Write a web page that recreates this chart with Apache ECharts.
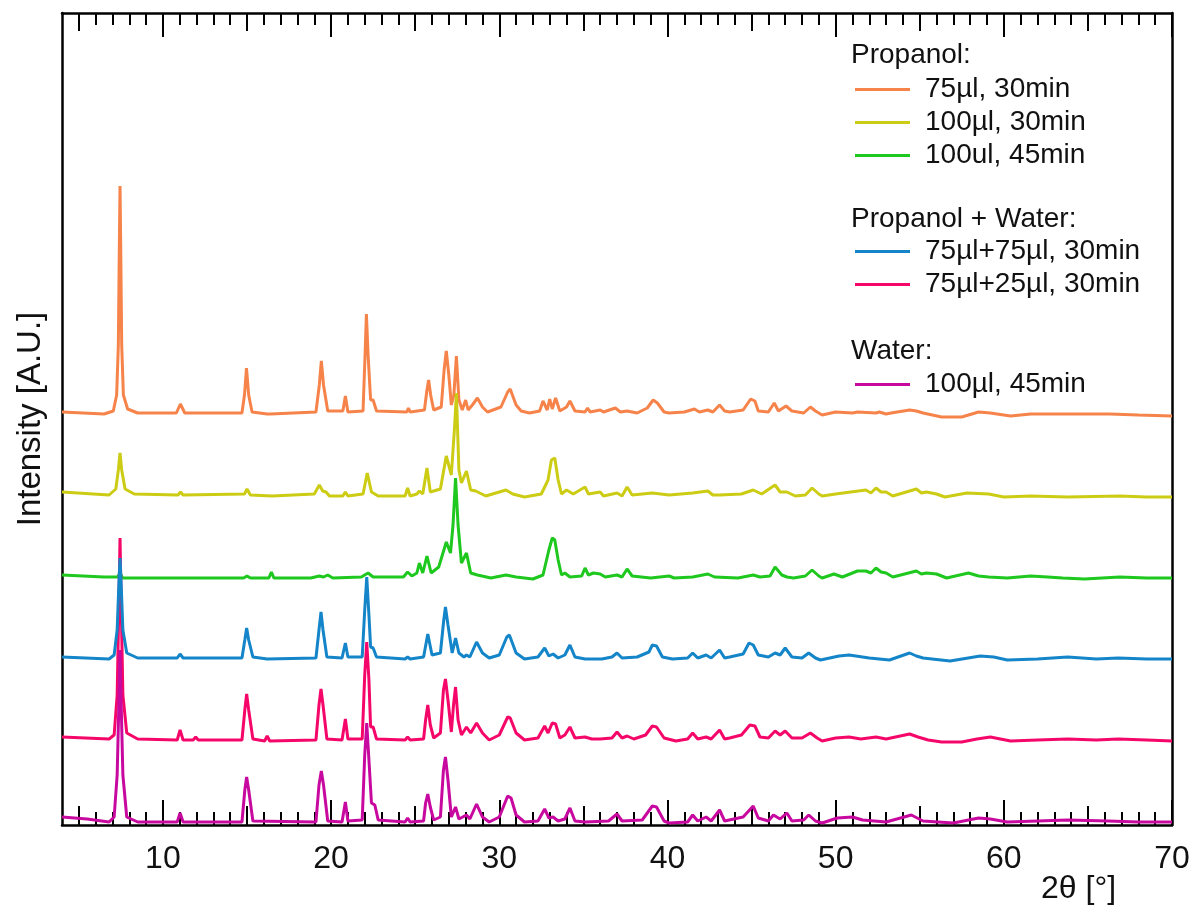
<!DOCTYPE html>
<html>
<head>
<meta charset="utf-8">
<script src="https://cdn.jsdelivr.net/npm/echarts@6/dist/echarts.min.js"></script>
<style>
html,body{margin:0;padding:0;background:#fff;}
#chart{width:1196px;height:907px;}
</style>
</head>
<body>
<div id="chart"></div>
<script>
// ---- Data (2θ in degrees, intensity in arbitrary stacked units) ----
var seriesNames = ['75µl, 30min', '100µl, 30min', '100ul, 45min', '75µl+75µl, 30min', '75µl+25µl, 30min', '100µl, 45min'];
var seriesColors = ['#F6834A', '#CCCC14', '#1EC81E', '#1485C8', '#F5076A', '#C8099F'];

var majorTicks = [10, 20, 30, 40, 50, 60, 70];
var midTicks = [5, 15, 25, 35, 45, 55, 65];
var minorTicks = [6, 7, 8, 9, 11, 12, 13, 14, 16, 17, 18, 19, 21, 22, 23, 24, 26, 27, 28, 29, 31, 32, 33, 34, 36, 37, 38, 39, 41, 42, 43, 44, 46, 47, 48, 49, 51, 52, 53, 54, 56, 57, 58, 59, 61, 62, 63, 64, 66, 67, 68, 69];

var propanol75_30 = [[4,413],[6.5,411],[7.05,414],[7.25,430],[7.35,480],[7.41,580],[7.45,639],[7.49,580],[7.55,480],[7.65,430],[7.9,416],[8.5,412],[10.8,412],[11.04,421],[11.3,412],[14.7,412],[14.85,430],[14.97,457],[15.1,430],[15.3,413],[16.2,411],[16.3,413],[16.4,411],[19.1,413],[19.3,440],[19.42,464],[19.55,440],[19.8,414],[20.7,414],[20.85,429],[21.0,413],[21.9,414],[22.02,470],[22.1,511],[22.2,470],[22.35,425],[22.5,425],[22.7,414],[24.5,413],[24.6,417],[24.7,413],[25.55,415],[25.7,435],[25.8,445],[25.92,430],[26.1,415],[26.55,418],[26.72,455],[26.85,474],[27.0,450],[27.15,420],[27.3,430],[27.45,469],[27.6,425],[27.8,415],[28.0,425],[28.15,415],[28.4,420],[28.7,427],[29.0,418],[29.3,413],[30.1,418],[30.5,433],[30.65,436],[31.0,420],[31.3,414],[31.8,412],[32.4,414],[32.6,424],[32.85,415],[33.0,426],[33.15,416],[33.35,427],[33.6,414],[34.0,418],[34.2,424],[34.5,414],[35.1,413],[35.25,417],[35.4,413],[36.0,415],[36.2,413],[36.9,417],[37.2,413],[37.6,414],[38.2,412],[38.8,417],[39.15,425],[39.4,422],[39.8,413],[40.1,412],[41.0,413],[41.6,416],[41.9,413],[42.4,415],[42.7,413],[43.1,420],[43.4,414],[43.7,413],[44.5,415],[44.95,426],[45.2,424],[45.4,414],[46.0,413],[46.35,422],[46.6,414],[47.05,419],[47.4,414],[48.1,412],[48.5,418],[48.8,414],[49.2,410],[50.0,413],[51.0,412],[51.3,413],[52.4,412],[52.6,413],[53.0,411],[53.3,412],[54.4,415],[54.8,414],[55.2,412],[56.3,408],[57.5,408],[58.5,413],[59.2,412],[60.4,409],[61.6,411],[63.8,411],[66.3,411],[68,410],[70,409]];

var propanol100_30 = [[4,333],[6.8,330],[7.2,336],[7.35,355],[7.45,372],[7.55,355],[7.75,336],[8.3,331],[10.9,330],[11.05,333],[11.2,330],[14.85,331],[15.0,336],[15.2,330],[16.5,329],[19.0,331],[19.3,340],[19.5,334],[19.7,333],[19.9,329],[20.7,329],[20.85,333],[21.0,329],[21.9,331],[22.15,352],[22.4,333],[22.8,329],[24.4,329],[24.55,337],[24.7,329],[25.1,331],[25.25,334],[25.45,331],[25.7,357],[25.9,333],[26.5,336],[26.85,369],[27.15,350],[27.35,400],[27.45,432],[27.6,355],[27.75,342],[28.05,354],[28.3,335],[28.6,334],[29.2,329],[30.4,335],[30.8,331],[31.5,328],[32.5,331],[32.9,345],[33.1,365],[33.3,367],[33.5,345],[33.7,331],[34.0,335],[34.4,331],[35.1,338],[35.3,331],[36.0,333],[36.2,329],[37.0,332],[37.3,329],[37.6,338],[37.9,330],[39.1,332],[40.1,330],[41.5,332],[42.4,334],[42.7,330],[43.1,330],[44.4,331],[45.1,335],[45.6,331],[46.4,340],[46.7,333],[47.1,333],[47.6,329],[48.2,330],[48.6,337],[49.0,331],[49.2,329],[50.0,331],[51.8,335],[52.1,332],[52.4,337],[52.7,333],[53.0,333],[53.4,329],[54.8,336],[55.1,332],[55.4,333],[56.0,331],[56.5,328],[57.8,332],[59.1,331],[60.0,328],[61.6,329],[63.8,328],[66.9,329],[68.5,328],[70,328]];

var propanol100_45 = [[4,250],[6.5,248],[7.3,248],[7.45,252],[7.6,247],[10,247],[11.0,247],[14.8,247],[15.0,249],[15.2,247],[16.3,247],[16.45,253],[16.6,247],[18.8,247],[19.3,249],[19.55,248],[19.8,250],[20.1,247],[21.8,248],[22.2,252],[22.5,248],[24.3,248],[24.55,253],[24.8,249],[25.1,252],[25.25,262],[25.45,252],[25.7,269],[25.95,252],[26.4,258],[26.85,283],[27.1,272],[27.25,300],[27.4,347],[27.55,300],[27.75,262],[28.05,272],[28.3,252],[28.7,250],[29.5,247],[30.4,250],[31.0,248],[32.0,246],[32.6,250],[32.95,275],[33.15,287],[33.3,285],[33.5,265],[33.7,250],[33.9,252],[34.2,248],[34.9,249],[35.1,257],[35.3,250],[35.6,252],[36.0,251],[36.3,248],[37.0,250],[37.3,248],[37.6,256],[37.9,249],[39.0,247],[40.1,249],[40.4,247],[41.5,248],[42.4,251],[42.8,248],[44.2,247],[45.1,250],[45.5,248],[46.1,249],[46.4,258],[46.8,250],[47.1,248],[47.5,247],[48.2,249],[48.6,255],[49.0,249],[49.2,247],[49.9,251],[50.4,248],[51.3,254],[51.8,254],[52.1,252],[52.4,257],[52.7,253],[53.0,252],[53.4,248],[54.8,254],[55.1,251],[55.4,252],[56.0,251],[56.6,247],[57.9,252],[58.5,249],[59.1,248],[60.2,247],[61.6,249],[62.6,248],[63.5,247],[64.8,246],[66.9,248],[68.5,247],[70,247]];

var mix75_75 = [[4,168],[6.8,166],[7.1,170],[7.28,195],[7.38,240],[7.45,267],[7.52,240],[7.62,195],[7.85,172],[8.5,167],[10.85,167],[11.02,171],[11.2,167],[14.7,167],[14.87,185],[14.98,197],[15.1,185],[15.35,168],[16.2,166],[19.1,167],[19.28,195],[19.4,213],[19.52,195],[19.75,168],[20.65,167],[20.85,182],[21.0,168],[21.85,168],[22.0,215],[22.12,248],[22.25,210],[22.35,178],[22.5,177],[22.7,168],[24.4,166],[24.55,168],[24.7,166],[25.5,168],[25.75,191],[26.0,170],[26.5,172],[26.7,205],[26.8,218],[26.95,200],[27.2,172],[27.4,187],[27.6,172],[27.9,168],[28.05,170],[28.25,168],[28.65,183],[29.0,172],[29.4,167],[30.0,170],[30.45,188],[30.6,190],[31.0,172],[31.5,166],[32.3,168],[32.7,177],[32.95,169],[33.2,171],[33.5,167],[33.9,170],[34.2,180],[34.5,168],[35.1,166],[36.1,166],[36.7,168],[37.0,172],[37.3,167],[38.2,168],[38.9,173],[39.1,180],[39.35,179],[39.7,168],[40.3,166],[41.2,167],[41.5,172],[41.8,167],[42.3,170],[42.6,167],[43.1,175],[43.4,167],[43.7,168],[44.5,171],[44.85,182],[45.1,180],[45.4,170],[46.0,168],[46.4,172],[46.7,170],[47.0,177],[47.4,168],[48.0,167],[48.4,172],[48.8,167],[49.1,165],[50.2,169],[50.8,170],[52.0,167],[53.2,165],[54.4,172],[54.8,169],[55.2,167],[56.8,164],[58.6,169],[59.4,168],[60.2,165],[62.0,166],[63.8,168],[65.5,166],[66.8,167],[68.5,166],[70,166]];

var mix75_25 = [[4,88],[6.8,86],[7.1,90],[7.28,130],[7.38,220],[7.45,287],[7.52,220],[7.62,130],[7.85,92],[8.5,86],[10.85,85],[11.02,95],[11.2,85],[11.8,85],[11.95,88],[12.1,85],[14.7,85],[14.87,115],[14.98,131],[15.1,115],[15.35,86],[16.05,84],[16.2,89],[16.35,84],[19.1,85],[19.28,120],[19.4,136],[19.52,120],[19.75,86],[20.65,85],[20.85,106],[21.0,86],[21.85,86],[22.0,150],[22.12,183],[22.25,145],[22.35,98],[22.5,98],[22.7,86],[24.4,85],[24.55,88],[24.7,85],[25.5,86],[25.62,105],[25.75,120],[25.9,100],[26.1,87],[26.5,92],[26.68,135],[26.8,146],[26.95,125],[27.15,93],[27.28,120],[27.4,138],[27.55,105],[27.75,90],[28.05,98],[28.3,92],[28.65,102],[29.0,92],[29.4,85],[30.0,90],[30.5,108],[30.65,107],[31.0,92],[31.5,85],[32.3,87],[32.7,99],[32.9,92],[33.15,102],[33.35,101],[33.6,87],[33.9,90],[34.2,98],[34.5,87],[35.1,88],[35.5,86],[36.0,86],[36.7,87],[37.0,93],[37.3,87],[37.6,89],[38.0,86],[38.7,90],[39.1,99],[39.35,98],[39.8,87],[40.5,84],[41.2,86],[41.5,92],[41.8,86],[42.3,88],[42.6,86],[43.1,95],[43.4,86],[43.7,87],[44.4,90],[44.9,100],[45.2,99],[45.5,88],[46.0,87],[46.4,94],[46.7,90],[47.0,94],[47.4,87],[48.0,87],[48.5,92],[48.9,87],[49.2,84],[50.0,87],[50.8,88],[51.5,86],[52.4,88],[53.0,86],[54.4,91],[54.9,88],[55.5,85],[56.3,83],[57.5,83],[58.4,86],[59.2,88],[60.4,84],[62.0,85],[63.8,86],[65.5,85],[66.8,86],[68.5,85],[70,84]];

var water100_45 = [[4,8],[5.5,6],[6.8,3],[7.1,8],[7.28,50],[7.38,120],[7.45,175],[7.52,120],[7.62,50],[7.85,8],[8.5,3],[10.85,3],[11.02,12],[11.2,3],[14.7,3],[14.87,35],[14.98,48],[15.1,35],[15.35,4],[19.1,3],[19.28,40],[19.42,54],[19.55,40],[19.8,4],[20.65,3],[20.85,23],[21.0,4],[21.85,5],[22.0,70],[22.12,102],[22.25,65],[22.4,22],[22.6,20],[22.8,5],[24.4,3],[24.55,7],[24.7,3],[25.5,4],[25.62,22],[25.75,31],[25.9,18],[26.1,5],[26.5,8],[26.68,55],[26.8,68],[26.95,45],[27.15,8],[27.4,18],[27.6,6],[28.05,10],[28.25,6],[28.65,21],[29.0,8],[29.4,3],[30.0,8],[30.5,29],[30.7,27],[31.0,10],[31.5,3],[32.3,4],[32.7,16],[32.95,7],[33.2,8],[33.5,4],[33.9,6],[34.2,17],[34.5,4],[35.1,3],[36.5,4],[37.0,11],[37.3,4],[38.5,5],[39.1,19],[39.35,18],[39.8,4],[40.1,2],[41.2,3],[41.5,10],[41.8,4],[42.3,8],[42.6,4],[43.1,15],[43.4,4],[44.5,8],[45.1,19],[45.4,7],[46.0,4],[46.3,10],[46.7,6],[47.1,12],[47.4,4],[48.1,5],[48.4,10],[48.8,4],[49.2,2],[50.1,7],[51.0,8],[51.6,5],[53.0,3],[54.5,10],[55.2,4],[57.0,2],[58.5,7],[59.2,6],[60.2,3],[62.0,4],[63.8,5],[66.2,4],[68.0,3],[70,3]];

// draw order (later on top): orange, yellow, green, pink, blue, purple
var drawOrder = [
  {name: seriesNames[0], data: propanol75_30, color: seriesColors[0]},
  {name: seriesNames[1], data: propanol100_30, color: seriesColors[1]},
  {name: seriesNames[2], data: propanol100_45, color: seriesColors[2]},
  {name: seriesNames[4], data: mix75_25, color: seriesColors[4]},
  {name: seriesNames[3], data: mix75_75, color: seriesColors[3]},
  {name: seriesNames[5], data: water100_45, color: seriesColors[5]}
];

var FONT = '"Liberation Sans", Arial, Helvetica, sans-serif';
var chart = echarts.init(document.getElementById('chart'), null, {renderer: 'canvas'});

function tickAxis(pos, vals, len, showLine, showLabel) {
  return {
    type: 'value', min: 4, max: 70, position: pos,
    axisLine: {show: showLine, onZero: false, lineStyle: {color: '#000', width: 2.5}},
    axisTick: {show: true, inside: true, length: len, customValues: vals, lineStyle: {color: '#000', width: 2}},
    axisLabel: showLabel ? {show: true, customValues: vals, fontSize: 32, color: '#111', fontFamily: FONT, margin: 18} : {show: false},
    splitLine: {show: false}
  };
}

var legendBase = {
  orient: 'vertical', icon: 'rect', itemWidth: 55, itemHeight: 3, itemGap: 0,
  left: 850, selectedMode: false,
  textStyle: {fontSize: 28, color: '#111', fontFamily: FONT, lineHeight: 33, padding: [0, 0, 0, 10]}
};

var option = {
  animation: false,
  backgroundColor: '#fff',
  grid: {left: 62, right: 24, top: 13, bottom: 82},
  xAxis: [
    tickAxis('bottom', majorTicks, 25, true, true),
    tickAxis('bottom', midTicks, 19, false, false),
    tickAxis('bottom', minorTicks, 13, false, false),
    tickAxis('top', majorTicks, 24, true, false),
    tickAxis('top', midTicks, 18, false, false),
    tickAxis('top', minorTicks, 12, false, false)
  ],
  yAxis: [
    {type: 'value', min: 0, max: 812, position: 'left',
     name: 'Intensity [A.U.]', nameLocation: 'middle', nameGap: 15,
     nameTextStyle: {fontSize: 33, color: '#111', fontFamily: FONT},
     axisLine: {show: true, lineStyle: {color: '#000', width: 2.5}},
     axisTick: {show: false}, axisLabel: {show: false}, splitLine: {show: false}},
    {type: 'value', min: 0, max: 812, position: 'right',
     axisLine: {show: true, lineStyle: {color: '#000', width: 2.5}},
     axisTick: {show: false}, axisLabel: {show: false}, splitLine: {show: false}}
  ],
  legend: [
    Object.assign({}, legendBase, {top: 68, data: [seriesNames[0], seriesNames[1], seriesNames[2]]}),
    Object.assign({}, legendBase, {top: 230, data: [seriesNames[3], seriesNames[4]]}),
    Object.assign({}, legendBase, {top: 363, data: [seriesNames[5]]})
  ],
  graphic: [
    {type: 'text', left: 851, top: 41, style: {text: 'Propanol:', fontSize: 28, fill: '#111', fontFamily: FONT}},
    {type: 'text', left: 851, top: 205, style: {text: 'Propanol + Water:', fontSize: 28, fill: '#111', fontFamily: FONT}},
    {type: 'text', left: 851, top: 337, style: {text: 'Water:', fontSize: 28, fill: '#111', fontFamily: FONT}},
    {type: 'text', left: 1041, top: 873, style: {text: '2θ [°]', fontSize: 32, fill: '#111', fontFamily: FONT}}
  ],
  series: drawOrder.map(function (s) {
    return {
      name: s.name, type: 'line', data: s.data, xAxisIndex: 0, yAxisIndex: 0,
      symbol: 'none', smooth: false, lineStyle: {color: s.color, width: 3},
      itemStyle: {color: s.color}, emphasis: {disabled: true}
    };
  })
};
chart.setOption(option);
</script>
</body>
</html>
